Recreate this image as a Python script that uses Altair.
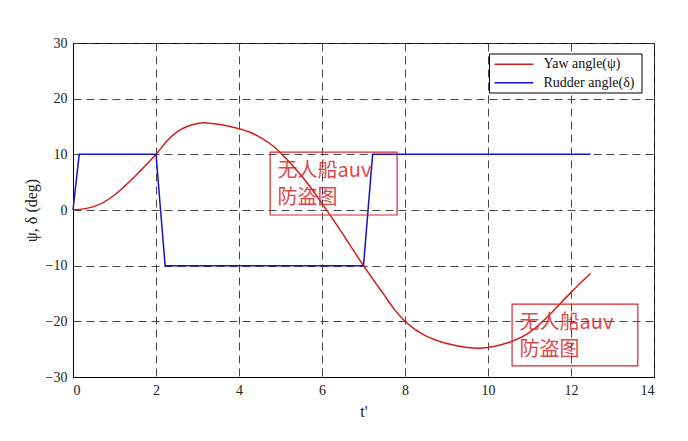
import altair as alt
import pandas as pd

# Yaw angle (psi)
yaw_t = [0, 0.5, 1, 1.5, 2, 2.25, 2.5, 2.75, 3, 3.2, 3.5, 3.75, 4, 4.25, 4.5,
         4.75, 5, 5.5, 6, 6.5, 7, 7.5, 7.75, 8, 8.25, 8.5, 8.75, 9, 9.5, 10,
         10.5, 11, 11.5, 12, 12.47]
yaw_v = [0, 0.6, 2.7, 6.1, 10, 12.3, 14.0, 15.0, 15.55, 15.65, 15.4, 15.05, 14.6,
         14.0, 13.1, 11.9, 10.3, 6.2, 1.2, -4.3, -10, -15.3, -17.9, -20.0,
         -21.5, -22.6, -23.4, -24.0, -24.7, -24.7, -23.8, -22.0, -18.7, -14.8,
         -11.4]

# Rudder angle (delta)
rud_t = [0, 0.15, 2.0, 2.22, 7.0, 7.22, 12.47]
rud_v = [0, 10, 10, -10, -10, 10, 10]

series_names = ["Yaw angle(ψ)", "Rudder angle(δ)"]
series_colors = ["#d41c1c", "#1414c8"]

x_ticks = [0, 2, 4, 6, 8, 10, 12, 14]
y_ticks = [-30, -20, -10, 0, 10, 20, 30]

# watermark annotations (data coordinates)
wm_text = ["无人船auv", "防盗图"]
wm_boxes = pd.DataFrame({
    "x": [4.75, 10.58], "x2": [7.81, 13.61],
    "y": [10.4, -16.9], "y2": [-0.9, -28.0],
})
wm_labels = pd.DataFrame({
    "x": [4.93, 4.93, 10.76, 10.76],
    "y": [6.95, 2.1, -20.3, -25.15],
    "text": [wm_text[0], wm_text[1], wm_text[0], wm_text[1]],
})

yaw_df = pd.DataFrame({"t": yaw_t, "v": yaw_v, "s": series_names[0]})
rud_df = pd.DataFrame({"t": rud_t, "v": rud_v, "s": series_names[1]})

xs = alt.Scale(domain=[0, 14], nice=False, zero=False)
ys = alt.Scale(domain=[-30, 30], nice=False, zero=False)
cs = alt.Scale(domain=series_names, range=series_colors)

xenc = alt.X("t:Q", scale=xs, title="t'", axis=alt.Axis(values=x_ticks, format="d"))
yenc = alt.Y("v:Q", scale=ys, title="ψ, δ (deg)", axis=alt.Axis(values=y_ticks, format="d"))

yaw_line = alt.Chart(yaw_df).mark_line(strokeWidth=1.5, interpolate="natural").encode(
    x=xenc, y=yenc, color=alt.Color("s:N", scale=cs, legend=None), order="t:Q",
)
rud_line = alt.Chart(rud_df).mark_line(strokeWidth=1.5).encode(
    x=xenc, y=yenc, color=alt.Color("s:N", scale=cs, legend=None), order="t:Q",
)

boxes = alt.Chart(wm_boxes).mark_rect(fill=None, stroke="#d42a2a", strokeWidth=1.2).encode(
    x=alt.X("x:Q", scale=xs), x2="x2:Q",
    y=alt.Y("y:Q", scale=ys), y2="y2:Q",
)

labels = alt.Chart(wm_labels).mark_text(
    align="left", baseline="middle", font="Noto Sans CJK SC", fontSize=20,
    color="#d42a2a", opacity=0.85,
).encode(
    x=alt.X("x:Q", scale=xs), y=alt.Y("y:Q", scale=ys), text="text:N",
)

# legend box drawn by hand (top-right, like MATLAB)
one = pd.DataFrame({"k": [0]})
leg_box = alt.Chart(one).mark_rect(fill="white", stroke="black", strokeWidth=1).encode(
    x=alt.value(416.5), x2=alt.value(569), y=alt.value(11), y2=alt.value(50),
)
leg_parts = [leg_box]
for i, (name, col) in enumerate(zip(series_names, series_colors)):
    yy = 21.3 + i * 18.5
    leg_parts.append(alt.Chart(one).mark_rule(color=col, strokeWidth=1.5).encode(
        x=alt.value(421.5), x2=alt.value(460.5), y=alt.value(yy)))
    leg_parts.append(alt.Chart(one).mark_text(
        align="left", baseline="middle", font="Liberation Serif", fontSize=14,
        color="#111").encode(x=alt.value(470.5), y=alt.value(yy), text=alt.value(name)))

chart = alt.layer(yaw_line, rud_line, boxes, labels, *leg_parts).properties(
    width=581, height=334,
    autosize=alt.AutoSizeParams(type="none"),
    padding={"left": 65, "top": 35, "right": 10, "bottom": 50},
    background="white",
).configure_view(
    stroke="black", strokeWidth=1,
).configure_axis(
    labelFont="Liberation Serif", labelFontSize=14, labelColor="#222",
    titleFont="Liberation Serif", titleFontSize=16, titleFontWeight="normal",
    titleColor="#222",
    domainColor="black", domainWidth=1,
    ticks=False, labelPadding=6,
    grid=True, gridColor="#333333", gridDash=[8, 5], gridWidth=1, gridOpacity=0.9,
).configure_axisY(
    titlePadding=6,
).configure_axisX(
    titlePadding=6,
)

chart.save("out.html", embed_options={"renderer": "svg", "actions": False})
